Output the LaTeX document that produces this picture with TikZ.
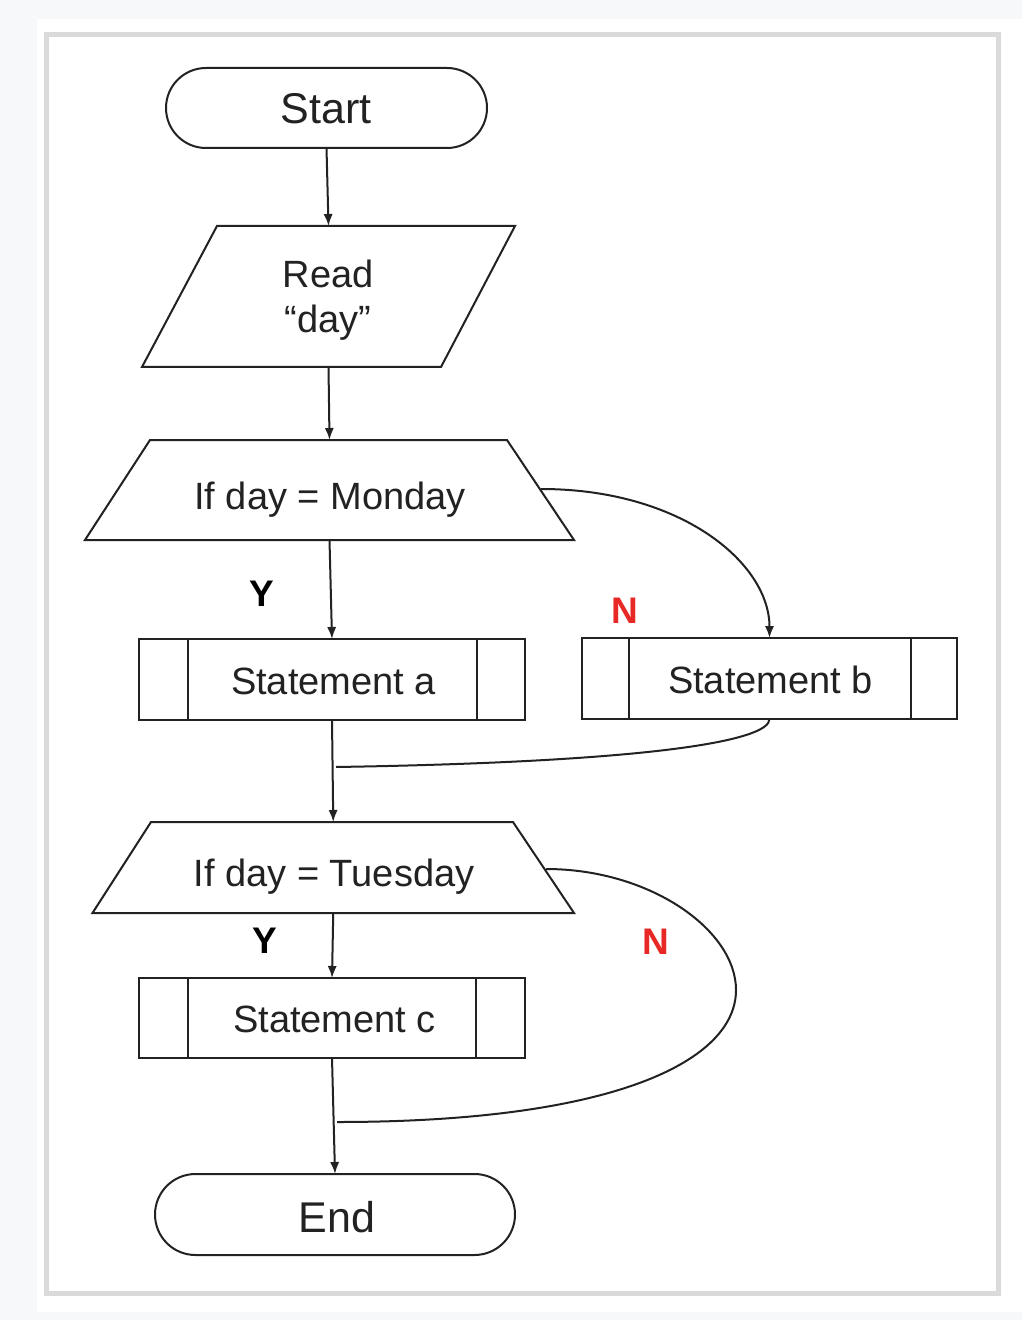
\documentclass[tikz,border=0pt]{standalone}
\usepackage{fontspec}
\setmainfont{Liberation Sans}
\usetikzlibrary{calc,arrows.meta}
\definecolor{bgc}{RGB}{247,248,250}
\definecolor{framec}{RGB}{218,218,218}
\definecolor{ink}{RGB}{34,34,34}
\definecolor{nred}{RGB}{232,40,36}
\begin{document}
\begin{tikzpicture}[x=0.5pt,y=-0.5pt,
  shapebox/.style={inner sep=0pt, outer sep=0pt},
  outline/.style={draw=ink, line width=1pt, line join=miter},
  termbox/.style={shapebox, outline, rectangle, rounded corners=20pt},
  procbox/.style={shapebox, outline, rectangle},
  txt/.style={anchor=base, inner sep=0pt, text=ink, font=\fontsize{19pt}{22pt}\selectfont},
  bigtxt/.style={anchor=base, inner sep=0pt, text=ink, font=\fontsize{21.5pt}{25pt}\selectfont},
  yes/.style={anchor=base, inner sep=0pt, text=black, font=\bfseries\fontsize{18.5pt}{22pt}\selectfont},
  no/.style={anchor=base, inner sep=0pt, text=nred, font=\bfseries\fontsize{18.5pt}{22pt}\selectfont},
  flow/.style={draw=ink, line width=1pt, -{Latex[length=6pt,width=4.6pt]}},
  link/.style={draw=ink, line width=1pt}]
\useasboundingbox (0,0) rectangle (1022,1320);
% background and frame
\fill[bgc] (0,0) rectangle (1022,1320);
\fill[white] (37,19) rectangle (1022,1312);
\draw[framec, line width=2.5pt] (46,35) rectangle (998,1293);

% Start
\node[termbox, minimum width=160.5pt, minimum height=40pt] (st) at (326.5,108) {};
\node[bigtxt] (stT) at (326,124) {Start};

% Read "day"
\node[shapebox, minimum width=186.5pt, minimum height=70.5pt] (rd) at (328.5,296.5) {};
\draw[outline] (rd.south west) -- ($(rd.south east)+(-74,0)$) -- (rd.north east) -- ($(rd.north west)+(75,0)$) -- cycle;
\node[txt] (rdT1) at (328,288) {Read};
\node[txt] (rdT2) at (328,333) {“day”};

% If day = Monday
\node[shapebox, minimum width=244.5pt, minimum height=50pt] (mon) at (329.5,490) {};
\draw[outline] (mon.south west) -- (mon.south east) -- ($(mon.north east)+(-67,0)$) -- ($(mon.north west)+(65,0)$) -- cycle;
\node[txt] (monT) at (330,509) {If day = Monday};

% Statement a
\node[procbox, minimum width=193pt, minimum height=40.5pt] (sa) at (332,679.5) {};
\draw[outline] ($(sa.north west)+(49,0)$) -- ($(sa.south west)+(49,0)$);
\draw[outline] ($(sa.north east)+(-48,0)$) -- ($(sa.south east)+(-48,0)$);
\node[txt] (saT) at (333.5,694) {Statement a};

% Statement b
\node[procbox, minimum width=187.5pt, minimum height=40.5pt] (sb) at (769.5,678.5) {};
\draw[outline] ($(sb.north west)+(47,0)$) -- ($(sb.south west)+(47,0)$);
\draw[outline] ($(sb.north east)+(-46,0)$) -- ($(sb.south east)+(-46,0)$);
\node[txt] (sbT) at (770.5,693) {Statement b};

% If day = Tuesday
\node[shapebox, minimum width=240.75pt, minimum height=45.5pt] (tue) at (333.25,867.5) {};
\draw[outline] (tue.south west) -- (tue.south east) -- ($(tue.north east)+(-61,0)$) -- ($(tue.north west)+(58.5,0)$) -- cycle;
\node[txt] (tueT) at (334,886) {If day = Tuesday};

% Statement c
\node[procbox, minimum width=193pt, minimum height=40pt] (sc) at (332,1018) {};
\draw[outline] ($(sc.north west)+(49,0)$) -- ($(sc.south west)+(49,0)$);
\draw[outline] ($(sc.north east)+(-49,0)$) -- ($(sc.south east)+(-49,0)$);
\node[txt] (scT) at (334.5,1032) {Statement c};

% End
\node[termbox, minimum width=180pt, minimum height=40.5pt, rounded corners=20.25pt] (en) at (335,1214.5) {};
\node[bigtxt] (enT) at (337,1232) {End};

% labels
\node[yes] (y1) at (262,606) {Y};
\node[no] (n1) at (625,623) {N};
\node[yes] (y2) at (265,953) {Y};
\node[no] (n2) at (656,954) {N};

% connector points
\coordinate (mN) at (541,489);
\coordinate (j1) at (336,767);
\coordinate (tN) at (546,869);
\coordinate (tR) at (736,990);
\coordinate (j2) at (337,1122);

% connectors
\draw[flow] (st.south) -- (rd.north);
\draw[flow] (rd.south) -- (mon.north);
\draw[flow] (mon.south) -- (sa.north);
\draw[flow] (mN) .. controls +(140,0) and +(0,-75) .. (sb.north);
\draw[link] (sb.south) .. controls +(0,22) and +(314,-5) .. (j1);
\draw[flow] (sa.south) -- (tue.north);
\draw[flow] (tue.south) -- (sc.north);
\draw[link] (tN) .. controls +(104,0) and +(0,-60) .. (tR) .. controls +(0,70) and +(280,0) .. (j2);
\draw[flow] (sc.south) -- (en.north);
\end{tikzpicture}
\end{document}
